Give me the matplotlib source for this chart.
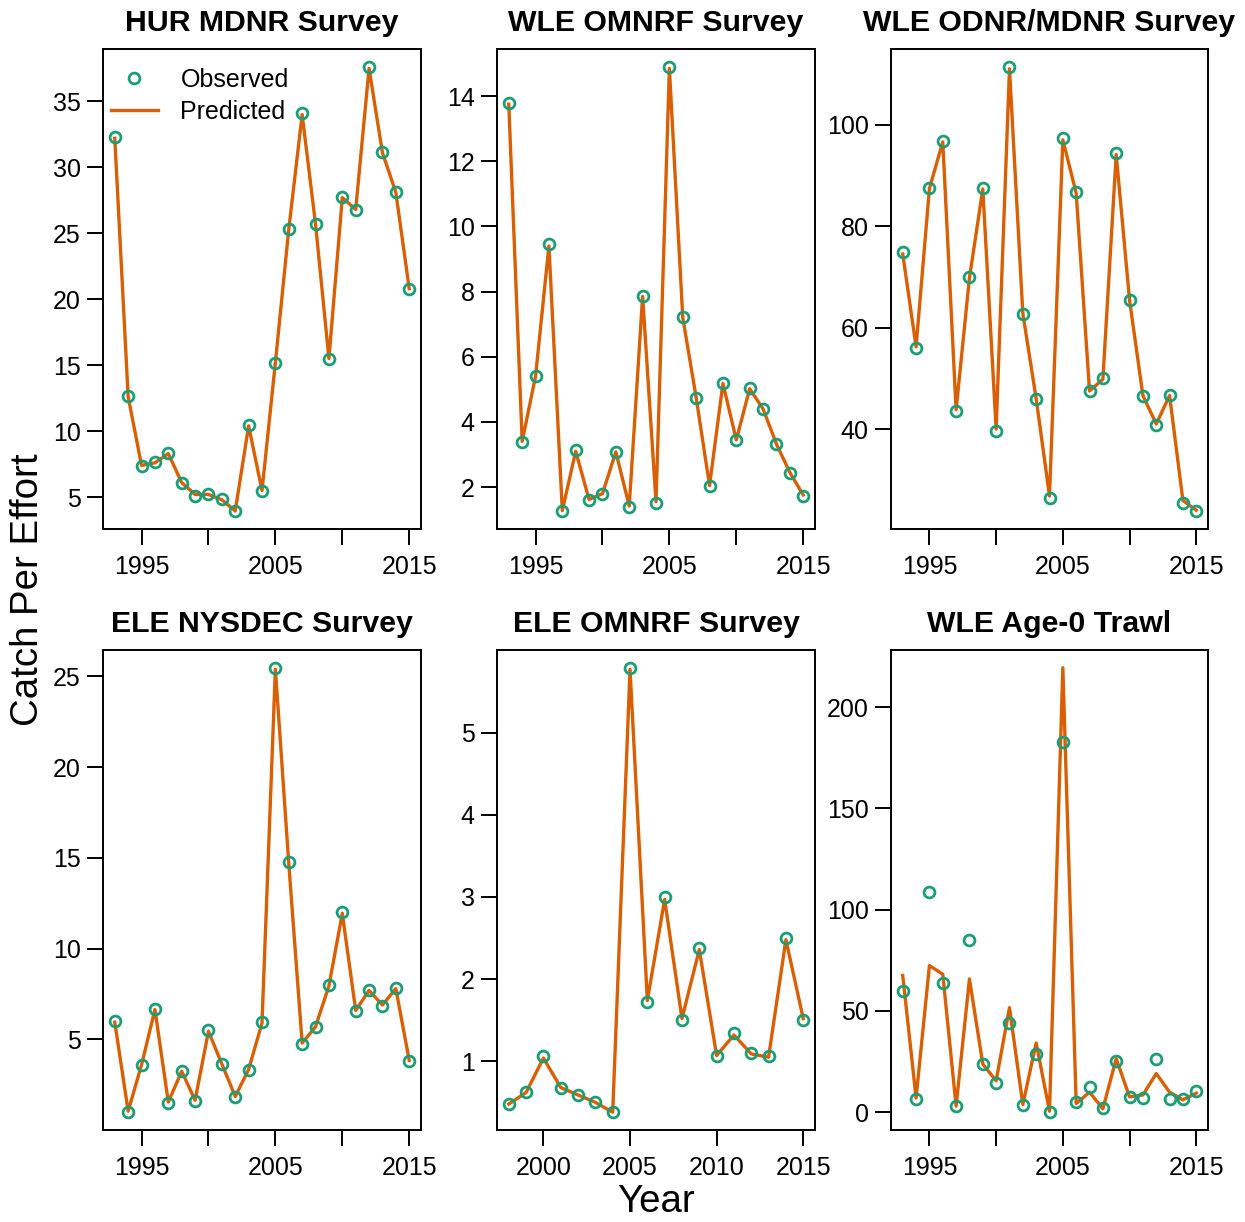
import matplotlib
matplotlib.use("Agg")
import matplotlib.pyplot as plt
import numpy as np
from matplotlib.lines import Line2D

plt.rcParams['font.family'] = ['Liberation Sans', 'DejaVu Sans']

OBS_COLOR = '#1B9E77'
PRED_COLOR = '#D95F02'

years_full = list(range(1993, 2016))
years_ele_omnrf = list(range(1998, 2016))

# HUR MDNR Survey
hur_mdnr_obs = [32.3, 12.67, 7.33, 7.64, 8.38, 6.07, 5.1, 5.2, 4.84, 3.93, 10.47, 5.5,
                15.18, 25.31, 34.08, 25.73, 15.45, 27.75, 26.75, 37.62, 31.15, 28.14, 20.76]
hur_mdnr_pred = [32.2, 12.6, 7.4, 7.6, 8.3, 6.1, 5.2, 5.2, 4.8, 3.95, 10.4, 5.5,
                 15.2, 25.3, 34.0, 25.7, 15.5, 27.7, 26.8, 37.5, 31.1, 28.1, 20.8]

# WLE OMNRF Survey
wle_omnrf_obs = [13.78, 3.38, 5.41, 9.45, 1.26, 3.13, 1.61, 1.79, 3.08, 1.4, 7.88, 1.52,
                 14.9, 7.22, 4.75, 2.02, 5.2, 3.45, 5.04, 4.4, 3.32, 2.43, 1.74]
wle_omnrf_pred = [13.75, 3.4, 5.4, 9.4, 1.28, 3.1, 1.62, 1.8, 3.08, 1.42, 7.85, 1.55,
                  14.85, 7.2, 4.75, 2.05, 5.18, 3.45, 5.02, 4.4, 3.32, 2.45, 1.76]

# WLE ODNR/MDNR Survey
wle_odnr_obs = [74.8, 55.9, 87.6, 96.8, 43.5, 69.9, 87.6, 39.7, 111.4, 62.7, 45.9, 26.5,
                97.4, 86.7, 47.4, 50.0, 94.4, 65.5, 46.5, 40.8, 46.8, 25.5, 23.8]
wle_odnr_pred = [74.5, 56.2, 87.4, 96.6, 43.8, 69.8, 87.3, 40.0, 111.0, 62.8, 46.0, 26.8,
                 97.0, 86.5, 47.5, 49.8, 94.1, 65.4, 46.6, 41.0, 46.6, 25.9, 24.0]

# ELE NYSDEC Survey
ele_nysdec_obs = [5.99, 0.99, 3.57, 6.69, 1.51, 3.26, 1.63, 5.5, 3.67, 1.82, 3.33, 5.95,
                  25.48, 14.79, 4.75, 5.68, 7.98, 12.0, 6.55, 7.75, 6.86, 7.83, 3.82]
ele_nysdec_pred = [5.95, 1.05, 3.6, 6.65, 1.55, 3.25, 1.65, 5.45, 3.65, 1.85, 3.35, 5.9,
                   25.4, 14.7, 4.8, 5.7, 7.95, 11.95, 6.6, 7.7, 6.9, 7.8, 3.85]

# ELE OMNRF Survey (1998 onward)
ele_omnrf_obs = [0.48, 0.63, 1.06, 0.68, 0.59, 0.5, 0.38, 5.79, 1.72, 3.0, 1.5, 2.38,
                 1.06, 1.34, 1.1, 1.06, 2.5, 1.5]
ele_omnrf_pred = [0.48, 0.62, 1.04, 0.68, 0.59, 0.5, 0.38, 5.77, 1.74, 2.97, 1.52, 2.36,
                  1.07, 1.32, 1.09, 1.05, 2.48, 1.52]

# WLE Age-0 Trawl
wle_trawl_obs = [59.9, 6.6, 108.9, 63.7, 2.95, 85.1, 24.0, 14.2, 44.1, 3.8, 28.5, 0.0,
                 183.0, 5.2, 12.5, 2.1, 25.5, 7.3, 6.9, 26.2, 6.6, 6.4, 10.4]
wle_trawl_pred = [67.5, 7.0, 72.4, 68.1, 3.0, 65.8, 23.8, 15.5, 51.6, 3.8, 34.2, 0.5,
                  219.4, 4.3, 9.9, 1.7, 26.4, 7.6, 8.5, 19.1, 9.9, 6.1, 9.4]

panels = [
    ('HUR MDNR Survey', years_full, hur_mdnr_obs, hur_mdnr_pred,
     [5, 10, 15, 20, 25, 30, 35], [1995, 2005, 2015]),
    ('WLE OMNRF Survey', years_full, wle_omnrf_obs, wle_omnrf_pred,
     [2, 4, 6, 8, 10, 12, 14], [1995, 2005, 2015]),
    ('WLE ODNR/MDNR Survey', years_full, wle_odnr_obs, wle_odnr_pred,
     [40, 60, 80, 100], [1995, 2005, 2015]),
    ('ELE NYSDEC Survey', years_full, ele_nysdec_obs, ele_nysdec_pred,
     [5, 10, 15, 20, 25], [1995, 2005, 2015]),
    ('ELE OMNRF Survey', years_ele_omnrf, ele_omnrf_obs, ele_omnrf_pred,
     [1, 2, 3, 4, 5], [2000, 2005, 2010, 2015]),
    ('WLE Age-0 Trawl', years_full, wle_trawl_obs, wle_trawl_pred,
     [0, 50, 100, 150, 200], [1995, 2005, 2015]),
]

W, H = 1245, 1222
fig = plt.figure(figsize=(W / 100, H / 100), dpi=100)

# axes boxes in pixels
col_px = [(103, 421), (497, 815), (891, 1208)]
row_px = [(49, 529), (650, 1130)]


def r_range(vals):
    # R-style 4% padding around the data
    lo, hi = min(vals), max(vals)
    pad = 0.04 * (hi - lo)
    return lo - pad, hi + pad


for i, (title, years, obs, pred, yticks, xlabels) in enumerate(panels):
    r, c = divmod(i, 3)
    x0, x1 = col_px[c]
    y0, y1 = row_px[r]
    ax = fig.add_axes([x0 / W, 1 - y1 / H, (x1 - x0) / W, (y1 - y0) / H])

    ax.plot(years, pred, color=PRED_COLOR, lw=2.4, zorder=2)
    ax.plot(years, obs, 'o', mfc='none', mec=OBS_COLOR, mew=2.0, ms=7.8, zorder=3)

    xlim = r_range(years)
    ax.set_xlim(*xlim)
    ax.set_ylim(*r_range(list(obs) + list(pred)))

    ax.set_yticks(yticks)
    ax.set_yticklabels([str(t) for t in yticks])
    xt = [t for t in range(1995, 2016, 5) if xlim[0] <= t <= xlim[1]]
    ax.set_xticks(xt)
    ax.set_xticklabels([str(t) if t in xlabels else '' for t in xt])

    ax.tick_params(direction='out', length=11.5, width=1.4, labelsize=18, pad=4.5)
    ax.tick_params(axis='x', pad=7)
    for sp in ax.spines.values():
        sp.set_linewidth(1.4)
    ax.set_title(title, fontsize=21.8, fontweight='bold', pad=13)

    if i == 0:
        handles = [Line2D([], [], ls='none', marker='o', mfc='none', mec=OBS_COLOR,
                          mew=2.0, ms=7.8),
                   Line2D([], [], color=PRED_COLOR, lw=2.4)]
        ax.legend(handles, ['Observed', 'Predicted'], loc='upper left', frameon=False,
                  fontsize=18, handlelength=1.9, handletextpad=0.9,
                  labelspacing=0.3, borderaxespad=0, borderpad=0.3,
                  bbox_to_anchor=(0, 0.976))

fig.text(28 / W, 1 - 590 / H, 'Catch Per Effort', rotation=90, ha='center',
         va='center', fontsize=27.6)
fig.text(656 / W, 1 - 1202 / H, 'Year', ha='center', va='center', fontsize=27.6)

fig.savefig('out.png', dpi=100)
